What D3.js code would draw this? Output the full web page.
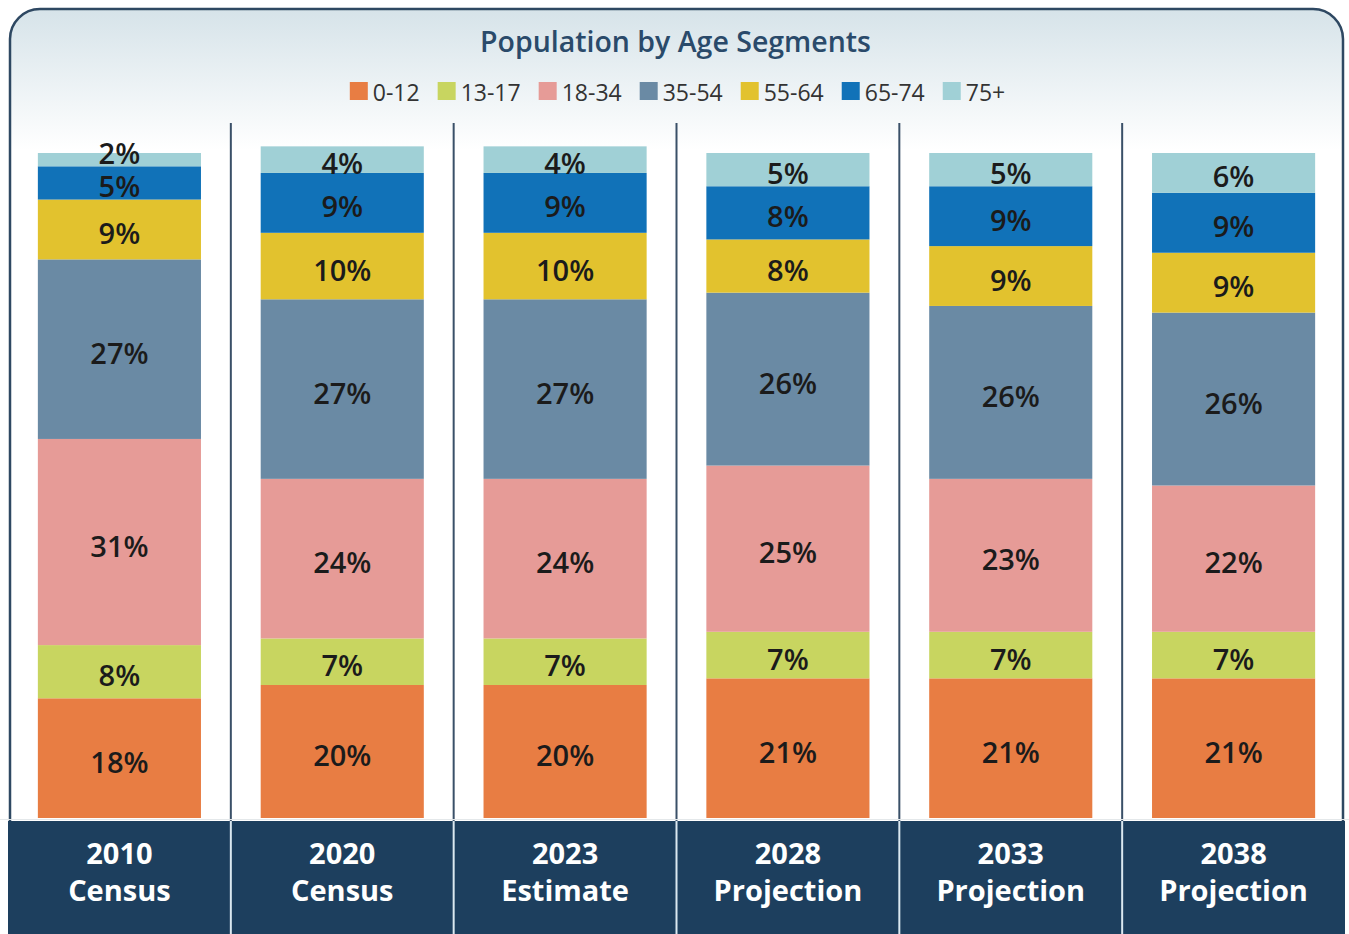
<!DOCTYPE html>
<html>
<head>
<meta charset="utf-8">
<script src="https://cdn.jsdelivr.net/npm/d3@7"></script>
<style>
  html, body { margin: 0; padding: 0; background: #fff; }
  svg { display: block; font-family: "Open Sans", "Noto Sans", sans-serif; }
</style>
</head>
<body>
<div id="chart"></div>
<script>
const YEARS = ['2010', '2020', '2023', '2028', '2033', '2038'];
const KINDS = ['Census', 'Census', 'Estimate', 'Projection', 'Projection', 'Projection'];
const SEGMENTS = ['0-12', '13-17', '18-34', '35-54', '55-64', '65-74', '75+'];

const AGE_0_12    = [18, 20, 20, 21, 21, 21];
const AGE_13_17   = [8, 7, 7, 7, 7, 7];
const AGE_18_34   = [31, 24, 24, 25, 23, 22];
const AGE_35_54   = [27, 27, 27, 26, 26, 26];
const AGE_55_64   = [9, 10, 10, 8, 9, 9];
const AGE_65_74   = [5, 9, 9, 8, 9, 9];
const AGE_75_PLUS = [2, 4, 4, 5, 5, 6];

const COLORS = ['#e87d43', '#c8d560', '#e69b97', '#6a8aa4', '#e2c22e', '#1172b8', '#a0d0d6'];

const W = 1349, H = 934;
const frame = { left: 10, right: 1343, top: 9, r: 30 };
const bandTop = 821;

const series = [AGE_0_12, AGE_13_17, AGE_18_34, AGE_35_54, AGE_55_64, AGE_65_74, AGE_75_PLUS];
const rows = YEARS.map((yr, i) => {
  const r = { year: yr };
  SEGMENTS.forEach((s, k) => { r[s] = series[k][i]; });
  return r;
});

const svg = d3.select('#chart').append('svg')
  .attr('width', W).attr('height', H)
  .attr('viewBox', `0 0 ${W} ${H}`);

const defs = svg.append('defs');
const grad = defs.append('linearGradient')
  .attr('id', 'bg').attr('gradientUnits', 'userSpaceOnUse')
  .attr('x1', 0).attr('x2', 0).attr('y1', frame.top).attr('y2', 150);
grad.append('stop').attr('offset', 0).attr('stop-color', '#d6e3e9');
grad.append('stop').attr('offset', 1).attr('stop-color', '#ffffff');

// frame with rounded top corners
const f = frame;
svg.append('path')
  .attr('d', `M${f.left},${bandTop} V${f.top + f.r} A${f.r},${f.r} 0 0 1 ${f.left + f.r},${f.top}
    H${f.right - f.r} A${f.r},${f.r} 0 0 1 ${f.right},${f.top + f.r} V${bandTop}`)
  .attr('fill', 'url(#bg)')
  .attr('stroke', '#2e4862')
  .attr('stroke-width', 2.5);

svg.append('text')
  .attr('x', W / 2 + 1).attr('y', 41)
  .attr('text-anchor', 'middle')
  .attr('dominant-baseline', 'central')
  .attr('font-size', '28.5px')
  .attr('font-weight', 600)
  .attr('fill', '#2a4a6a')
  .text('Population by Age Segments');

// legend
const legend = svg.append('g');
let lx = 0;
SEGMENTS.forEach((s, k) => {
  const it = legend.append('g').attr('transform', `translate(${lx},0)`);
  it.append('rect').attr('x', 0).attr('y', -9).attr('width', 18).attr('height', 18)
    .attr('fill', COLORS[k]);
  const t = it.append('text').attr('x', 23).attr('y', 1)
    .attr('dominant-baseline', 'central')
    .attr('font-size', '23px')
    .attr('fill', '#333')
    .text(s);
  lx += 23 + t.node().getComputedTextLength() + 18;
});
const lw = lx - 18;
legend.attr('transform', `translate(${(W - lw) / 2 + 3},91)`);

const x = d3.scaleBand()
  .domain(YEARS)
  .range([8, 1345])
  .paddingInner(0).paddingOuter(0);

const y = d3.scaleLinear()
  .domain([0, 100])
  .range([818, 153]);

const barW = x.bandwidth() * 0.732;
const barOff = (x.bandwidth() - barW) / 2;

// column separators
svg.append('g').selectAll('line')
  .data(YEARS.slice(1))
  .join('line')
  .attr('x1', d => x(d)).attr('x2', d => x(d))
  .attr('y1', 123).attr('y2', bandTop)
  .attr('stroke', '#3a5068')
  .attr('stroke-width', 2);

const stack = d3.stack().keys(SEGMENTS)(rows);

const layers = svg.append('g').selectAll('g')
  .data(stack)
  .join('g')
  .attr('fill', (d, k) => COLORS[k]);

layers.selectAll('rect')
  .data(d => d)
  .join('rect')
  .attr('x', d => x(d.data.year) + barOff)
  .attr('width', barW)
  .attr('y', d => y(d[1]))
  .attr('height', d => y(d[0]) - y(d[1]));

// value labels, pushed up when they would collide
const labels = svg.append('g')
  .attr('font-size', '29px')
  .attr('font-weight', 600)
  .attr('fill', '#1b1b1b')
  .attr('text-anchor', 'middle');

YEARS.forEach((yr, i) => {
  let prev = Infinity;
  stack.forEach(layer => {
    const d = layer[i];
    let cy = (y(d[0]) + y(d[1])) / 2 + 3;
    if (prev - cy < 33) cy = prev - 33;
    prev = cy;
    labels.append('text')
      .attr('x', x(yr) + x.bandwidth() / 2)
      .attr('y', cy)
      .attr('dominant-baseline', 'central')
      .text((d[1] - d[0]) + '%');
  });
});

// bottom category band
svg.append('line')
  .attr('x1', 0).attr('x2', W)
  .attr('y1', 819.5).attr('y2', 819.5)
  .attr('stroke', '#e4e8ea').attr('stroke-width', 1);

svg.append('rect')
  .attr('x', 8).attr('y', bandTop)
  .attr('width', 1345 - 8).attr('height', H - bandTop)
  .attr('fill', '#1d3f5e');

svg.append('g').selectAll('line')
  .data(YEARS.slice(1))
  .join('line')
  .attr('x1', d => x(d)).attr('x2', d => x(d))
  .attr('y1', bandTop).attr('y2', H)
  .attr('stroke', '#dbe8f0')
  .attr('stroke-width', 2);

const axis = svg.append('g')
  .attr('transform', `translate(0,${bandTop})`)
  .call(d3.axisBottom(x).tickSize(0).tickFormat(''))
  .call(g => g.select('.domain').remove());

axis.selectAll('.tick text').each(function (d, i) {
  const t = d3.select(this)
    .attr('y', 0).attr('dy', null)
    .attr('fill', '#fff')
    .attr('font-size', '29px')
    .attr('font-weight', 700)
    .attr('font-family', '"Open Sans", sans-serif');
  t.append('tspan').attr('x', 0).attr('y', 31).attr('dominant-baseline', 'central').text(d);
  t.append('tspan').attr('x', 0).attr('y', 68).attr('dominant-baseline', 'central').text(KINDS[i]);
});
</script>
</body>
</html>
